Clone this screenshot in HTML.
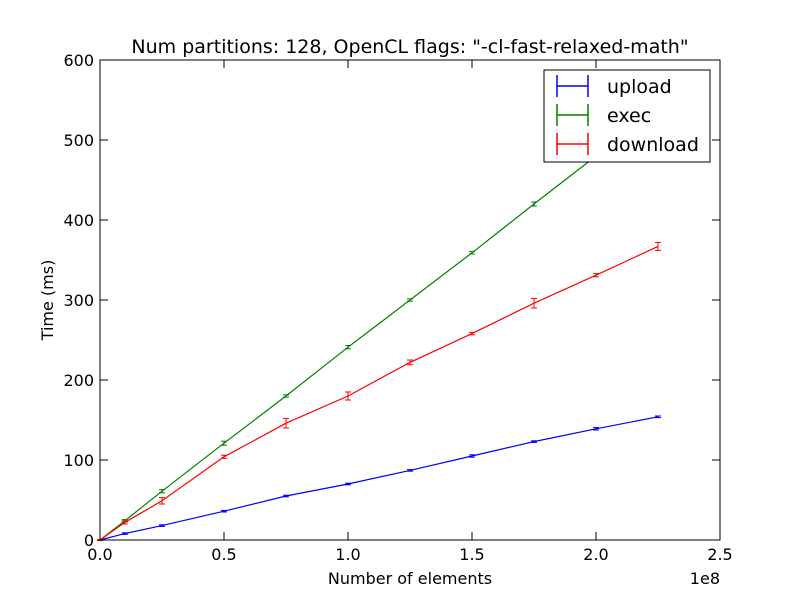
<!DOCTYPE html>
<html><head><meta charset="utf-8"><style>body{margin:0;background:#fff}svg{display:block;font-family:"DejaVu Sans","Liberation Sans",sans-serif}</style></head>
<body>
<svg id="c" width="800" height="600" xmlns="http://www.w3.org/2000/svg">
<rect width="800" height="600" fill="#fff"/>
<text x="410" y="53" font-size="19" text-anchor="middle">Num partitions: 128, OpenCL flags: "-cl-fast-relaxed-math"</text>
<g id="plot"></g>
<rect x="100" y="60" width="620" height="480" fill="none" stroke="#000"/>
<text x="410" y="584" font-size="16" text-anchor="middle">Number of elements</text>
<text x="53" y="300" font-size="16" text-anchor="middle" transform="rotate(-90 53 300)">Time (ms)</text>
<text x="720" y="584" font-size="16" text-anchor="end">1e8</text>
<g>
<rect x="544" y="70" width="166" height="92" fill="#fff" stroke="#000"/>
<g id="leg"></g>
</g>
</svg>
<script>
const xs=[0,1e7,2.5e7,5e7,7.5e7,1e8,1.25e8,1.5e8,1.75e8,2e8,2.25e8];
const upload=[0,8,18,36,55,70,87,105,123,139,154];
const uploadErr=[0.5,1,1,1,1,1,1,1.5,1,1.5,1];
const exec=[0,24,61,121,180,241,300,359,420,480,540];
const execErr=[0.5,1.5,2,2.5,1.5,2,1.5,1.5,2.5,2,2];
const download=[0,22,49,104,146,180,222,258,296,331,367];
const downloadErr=[0.5,2,4,2,6,5,3,1.5,6,2,5];
const xTicks=[0,0.5,1.0,1.5,2.0,2.5];
const xTickLabels=["0.0","0.5","1.0","1.5","2.0","2.5"];
const yTicks=[0,100,200,300,400,500,600];
const NS="http://www.w3.org/2000/svg";
const X=v=>100+v/2.5e8*620, Y=v=>540-v/600*480;
const plot=document.getElementById('plot');
function mk(t,a,p){const e=document.createElementNS(NS,t);for(const k in a)e.setAttribute(k,a[k]);(p||plot).appendChild(e);return e;}
xTicks.forEach((t,i)=>{const x=X(t*1e8);
const a=mk('line',{x1:x,x2:x,y1:540,y2:532,stroke:'#000'});
mk('line',{x1:x,x2:x,y1:60,y2:68,stroke:'#000'});
const tx=mk('text',{x:x,y:560,'font-size':16,'text-anchor':'middle'});tx.textContent=xTickLabels[i];
});
yTicks.forEach(t=>{const y=Y(t);
mk('line',{x1:100,x2:108,y1:y,y2:y,stroke:'#000'});mk('line',{x1:712,x2:720,y1:y,y2:y,stroke:'#000'});
const tx=mk('text',{x:94,y:y+6,'font-size':16,'text-anchor':'end'});tx.textContent=t;
});
function series(vals,errs,col,name){
const g=mk('g',{});
mk('polyline',{points:vals.map((v,i)=>X(xs[i])+','+Y(v)).join(' '),fill:'none',stroke:col,'stroke-width':1.2},g);
vals.forEach((v,i)=>{const x=X(xs[i]),e=errs[i];
mk('line',{x1:x,x2:x,y1:Y(v-e),y2:Y(v+e),stroke:col},g);
mk('line',{x1:x-3,x2:x+3,y1:Y(v-e),y2:Y(v-e),stroke:col},g);
mk('line',{x1:x-3,x2:x+3,y1:Y(v+e),y2:Y(v+e),stroke:col},g);});}
series(upload,uploadErr,'#0000ff','upload');
series(exec,execErr,'#008000','exec');
series(download,downloadErr,'#ff0000','download');
const leg=document.getElementById('leg');
[['upload','#0000ff'],['exec','#008000'],['download','#ff0000']].forEach((d,i)=>{const y=86+i*29;
const g=mk('g',{},leg);
mk('line',{x1:557,x2:588,y1:y,y2:y,stroke:d[1],'stroke-width':1.5},g);
mk('line',{x1:557,x2:557,y1:y-11,y2:y+11,stroke:d[1],'stroke-width':1.5},g);
mk('line',{x1:588,x2:588,y1:y-11,y2:y+11,stroke:d[1],'stroke-width':1.5},g);
const t=mk('text',{x:607,y:y+7,'font-size':19},g);t.textContent=d[0];});
</script>
</body></html>
